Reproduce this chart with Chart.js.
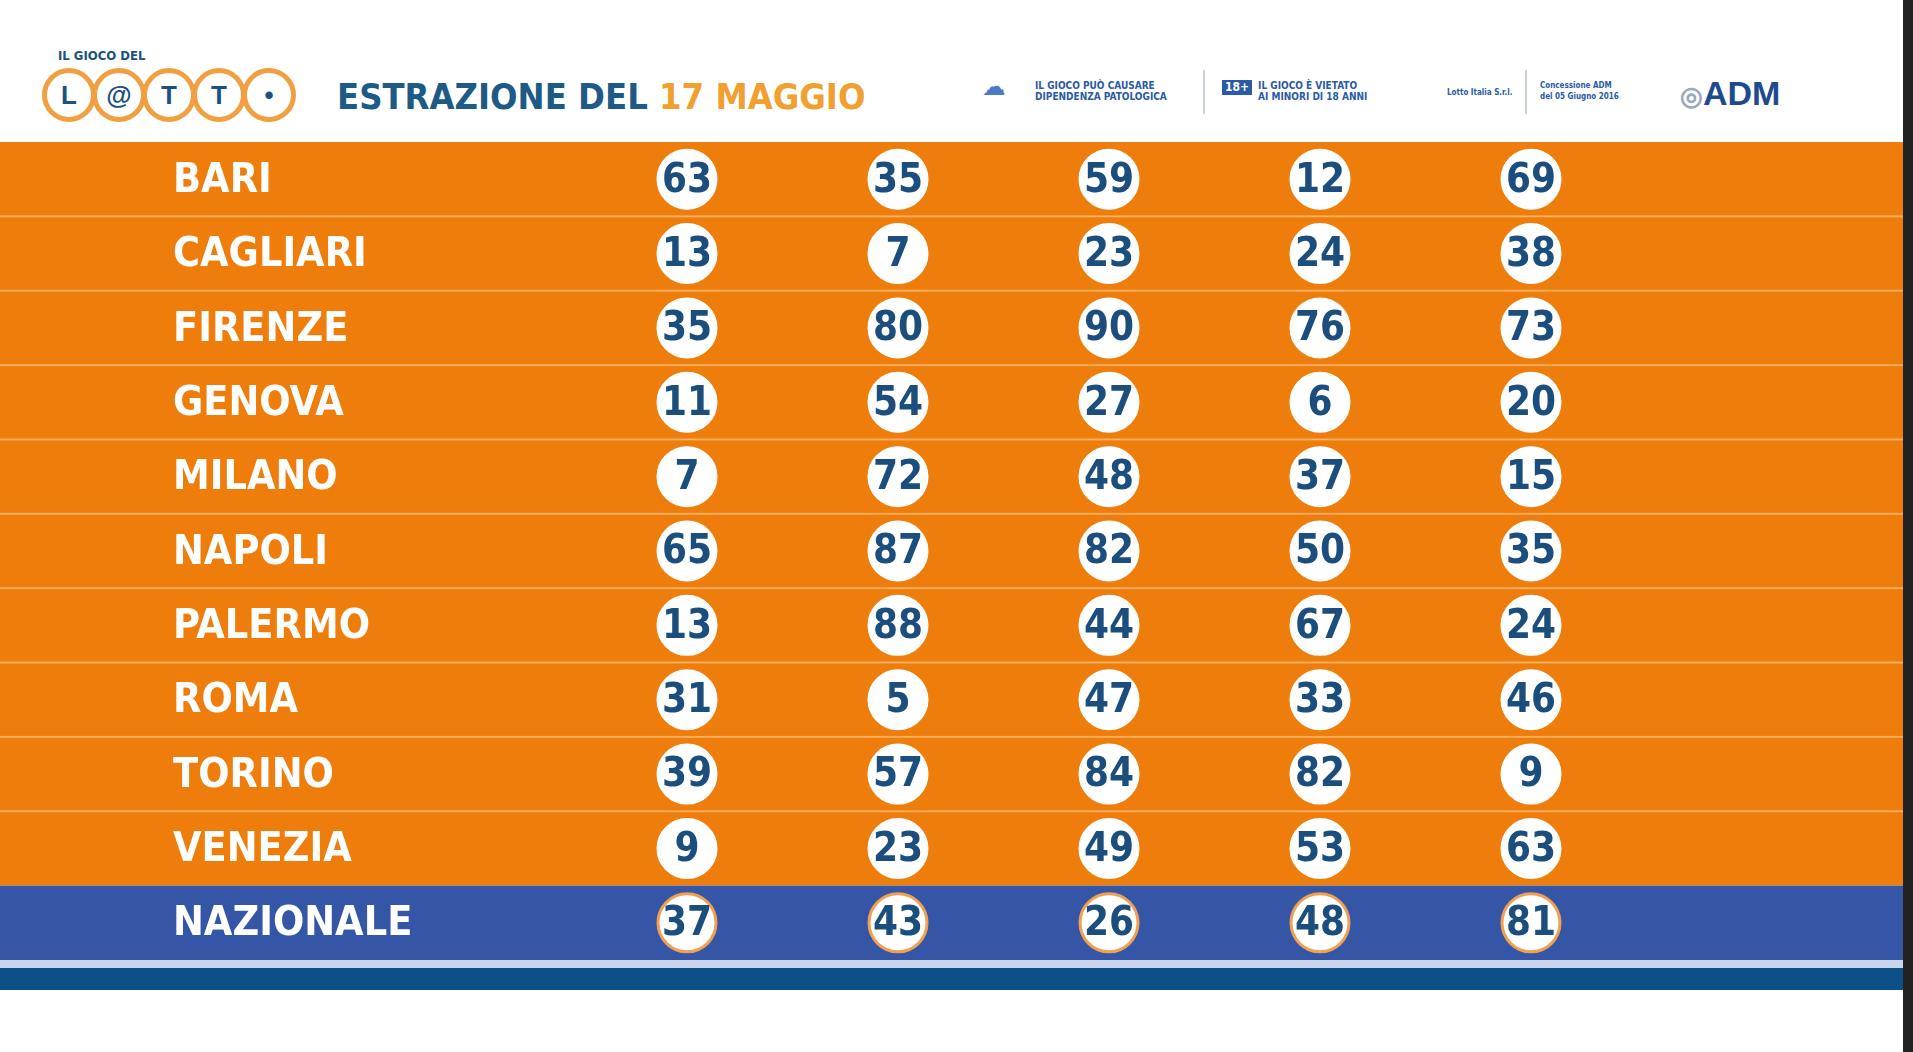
<!DOCTYPE html>
<html>
<head>
<meta charset="utf-8">
<script src="https://cdn.jsdelivr.net/npm/chart.js@4"></script>
<style>
  body { margin:0; width:1913px; height:1052px; background:#fff; overflow:hidden; font-family:'DejaVu Sans Condensed','DejaVu Sans',sans-serif; font-stretch:condensed; position:relative; }
  #head { position:absolute; left:0; top:0; width:1903px; height:142px; }
  .small { position:absolute; left:58px; top:48px; font-size:13px; font-weight:bold; color:#1d4f80; }
  .lotto { position:absolute; left:42px; top:68px; display:flex; }
  .lotto span { width:44px; height:44px; border-radius:50%; border:5px solid #f0a040; background:#fff; color:#1d4f80; font:bold 26px 'Liberation Sans',sans-serif; display:flex; align-items:center; justify-content:center; margin-right:-4px; }
  .title { position:absolute; left:337px; top:76px; font-size:36px; font-weight:bold; color:#1d5a85; }
  .title b { color:#f0a030; }
  .logo { position:absolute; top:80px; font-size:10px; font-weight:bold; color:#2a5aa8; line-height:11px; white-space:nowrap; }
  .adm { position:absolute; left:1680px; top:74px; font:bold 34px 'Liberation Sans',sans-serif; color:#1e4a90; }
  .vr { position:absolute; top:70px; width:2px; height:44px; background:#c8d0dc; }
  #wrap { position:absolute; left:0; top:142px; width:1903px; height:818px; }
  #band1 { position:absolute; left:0; top:960px; width:1903px; height:8px; background:#c9d6ea; }
  #band2 { position:absolute; left:0; top:968px; width:1903px; height:22px; background:#0d5088; }
  #edge { position:absolute; left:1903px; top:0; width:10px; height:1052px; background:#222; }
</style>
</head>
<body>
<div id="head">
  <div class="small">IL GIOCO DEL</div>
  <div class="lotto"><span>L</span><span>@</span><span>T</span><span>T</span><span>•</span></div>
  <div class="title">ESTRAZIONE DEL <b>17 MAGGIO</b></div>
  <div class="logo" style="left:982px;"><span style="font-size:26px;color:#4a7ac8;vertical-align:middle">☁</span></div>
  <div class="logo" style="left:1035px;">IL GIOCO PUÒ CAUSARE<br>DIPENDENZA PATOLOGICA</div>
  <div class="vr" style="left:1203px"></div>
  <div class="logo" style="left:1222px;"><span style="background:#2a5aa8;color:#fff;padding:2px 3px;float:left;margin-right:6px;font-size:12px">18+</span>IL GIOCO È VIETATO<br>AI MINORI DI 18 ANNI</div>
  <div class="logo" style="left:1447px;top:87px;font-size:8px">Lotto Italia S.r.l.</div>
  <div class="vr" style="left:1525px"></div>
  <div class="logo" style="left:1540px;font-size:8px">Concessione ADM<br>del 05 Giugno 2016</div>
  <div class="adm"><span style="color:#9aa8c0;font-size:26px">◎</span>ADM</div>
</div>
<div id="wrap"><canvas id="c"></canvas></div>
<div id="band1"></div>
<div id="band2"></div>
<div id="edge"></div>
<script>
const ruote = ["BARI","CAGLIARI","FIRENZE","GENOVA","MILANO","NAPOLI","PALERMO","ROMA","TORINO","VENEZIA","NAZIONALE"];
const primo   = [63,13,35,11,7,65,13,31,39,9,37];
const secondo = [35,7,80,54,72,87,88,5,57,23,43];
const terzo   = [59,23,90,27,48,82,44,47,84,49,26];
const quarto  = [12,24,76,6,37,50,67,33,82,53,48];
const quinto  = [69,38,73,20,15,35,24,46,9,63,81];
const estrazioni = [primo, secondo, terzo, quarto, quinto];

const ORANGE = "#ee7d0c", BLUE = "#3555a6", NUM = "#1b4e7c";
const FONT = "'DejaVu Sans Condensed', 'DejaVu Sans', sans-serif";

const datasets = estrazioni.map((serie, col) => ({
  data: serie.map((v, row) => ({ x: col + 1, y: row, v: v })),
  pointRadius: 29,
  pointHoverRadius: 29,
  backgroundColor: "#fff",
  borderColor: serie.map((v, row) => row === ruote.length - 1 ? "#f0a050" : "#fff"),
  borderWidth: 3
}));

const tablePlugin = {
  id: "table",
  beforeDatasetsDraw(chart) {
    const { ctx, scales: { x, y }, chartArea: a } = chart;
    ctx.save();
    ruote.forEach((name, i) => {
      const top = y.getPixelForValue(i - 0.5), bot = y.getPixelForValue(i + 0.5);
      ctx.fillStyle = i === ruote.length - 1 ? BLUE : ORANGE;
      ctx.fillRect(a.left, top, a.right - a.left, bot - top);
      if (i > 0 && i < ruote.length - 1) {
        ctx.fillStyle = "rgba(255,190,120,0.7)";
        ctx.fillRect(a.left, top - 1, a.right - a.left, 2);
      }
      ctx.fillStyle = "#fff";
      ctx.fontStretch = "condensed";
      ctx.font = "bold 41px " + FONT;
      ctx.textBaseline = "middle";
      ctx.fillText(name, 173, y.getPixelForValue(i) + 2);
    });
    ctx.restore();
  },
  afterDatasetsDraw(chart) {
    const { ctx } = chart;
    ctx.save();
    ctx.fillStyle = NUM;
    ctx.fontStretch = "condensed";
    ctx.font = "bold 40px " + FONT;
    ctx.textAlign = "center";
    ctx.textBaseline = "middle";
    chart.data.datasets.forEach((ds, di) => {
      chart.getDatasetMeta(di).data.forEach((pt, j) => {
        ctx.fillText(String(ds.data[j].v), pt.x, pt.y + 2);
      });
    });
    ctx.restore();
  }
};

new Chart(document.getElementById("c"), {
  type: "scatter",
  data: { datasets: datasets },
  options: {
    responsive: true,
    maintainAspectRatio: false,
    animation: false,
    layout: { padding: 0, autoPadding: false },
    plugins: { legend: { display: false }, tooltip: { enabled: false } },
    scales: {
      x: { type: "linear", min: 1 - 687 / 211, max: 1 - 687 / 211 + 1903 / 211, display: false },
      y: { type: "linear", min: -0.5, max: ruote.length - 0.5, reverse: true, display: false }
    }
  },
  plugins: [tablePlugin]
});
</script>
</body>
</html>
